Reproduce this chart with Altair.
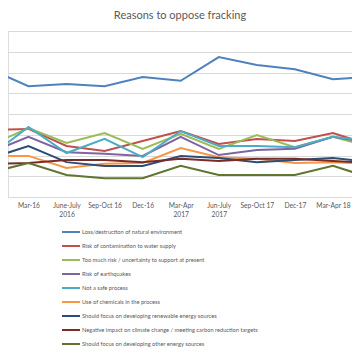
import altair as alt
import pandas as pd

waves = ["Dec-15", "Mar-16", "June-July|2016", "Sep-Oct 16", "Dec-16", "Mar-Apr|2017",
         "Jun-July|2017", "Sep-Oct 17", "Dec-17", "Mar-Apr 18", "Jun-July 18"]

series_names = [
    "Loss/destruction of natural environment",
    "Risk of contamination to water supply",
    "Too much risk / uncertainty to support at present",
    "Risk of earthquakes",
    "Not a safe process",
    "Use of chemicals in the process",
    "Should focus on developing renewable energy sources",
    "Negative impact on climate change / meeting carbon reduction targets",
    "Should focus on developing other energy sources",
]
colors = ["#4F81BD", "#C0504D", "#9BBB59", "#8064A2", "#4BACC6",
          "#F79646", "#2C4D75", "#772C2A", "#5F7530"]

loss = [30.8, 26.7, 27.2, 26.7, 28.9, 28.0, 33.7, 31.8, 30.8, 28.4, 28.9]
water = [16.1, 16.4, 12.3, 11.1, 13.5, 15.9, 12.8, 14.0, 13.5, 15.4, 12.5]
too_much = [12.5, 16.6, 13.0, 15.4, 11.6, 15.2, 11.6, 14.9, 12.0, 14.5, 12.0]
quakes = [10.8, 14.5, 10.8, 10.4, 9.9, 14.5, 10.1, 11.3, 11.6, 14.5, 13.0]
not_safe = [9.9, 16.9, 10.6, 14.0, 9.6, 15.9, 12.3, 12.3, 12.0, 14.5, 13.5]
chemicals = [9.9, 9.9, 7.0, 8.0, 8.2, 11.8, 9.6, 9.2, 8.2, 8.4, 8.0]
renewable = [9.3, 12.3, 8.4, 7.5, 7.5, 9.9, 9.4, 8.4, 8.9, 9.4, 8.4]
climate = [8.0, 8.2, 8.9, 8.9, 8.4, 9.2, 8.7, 9.2, 9.2, 8.7, 8.2]
other = [5.9, 8.2, 5.3, 4.5, 4.5, 7.5, 5.3, 5.3, 5.3, 7.5, 4.6]

all_series = [loss, water, too_much, quakes, not_safe, chemicals, renewable, climate, other]

rows = []
for k, (name, vals) in enumerate(zip(series_names, all_series)):
    for w, v in zip(waves, vals):
        rows.append({"series": name, "wave": w, "value": v, "k": k})
df = pd.DataFrame(rows)

FONT = "Lato"
TXT = "#595959"
GRID = "#D9D9D9"

chart = alt.Chart(df).mark_line(strokeWidth=2, clip=True).encode(
    x=alt.X("wave:N", sort=waves,
            scale=alt.Scale(type="point", range=[-17.6, 363], padding=0),
            axis=alt.Axis(title=None, labelExpr="split(datum.label, '|')",
                          labelAngle=0, labelOverlap=False, ticks=False,
                          domainColor=GRID, labelColor=TXT, labelFont=FONT,
                          labelFontSize=6.7, labelPadding=5, labelLineHeight=9,
                          grid=False)),
    y=alt.Y("value:Q", scale=alt.Scale(domain=[0, 40], nice=False),
            axis=alt.Axis(title=None, labels=False, ticks=False, domain=False,
                          values=list(range(0, 41, 5)), gridColor=GRID, gridWidth=1)),
    color=alt.Color("series:N", sort=series_names,
                    scale=alt.Scale(domain=series_names, range=colors),
                    legend=alt.Legend(title=None, orient="none", legendX=53, legendY=191,
                                      symbolType="stroke", symbolSize=324,
                                      symbolStrokeWidth=2, labelFont=FONT,
                                      labelFontSize=5.7, labelColor=TXT, labelLimit=400,
                                      labelOffset=1, rowPadding=-3.0)),
    order=alt.Order("k:Q"),
).properties(
    width=344, height=166,
    padding={"left": 0, "top": 23, "right": 0, "bottom": 155},
    autosize=alt.AutoSizeParams(type="none"),
    title=alt.TitleParams("Reasons to oppose fracking", font=FONT, fontSize=11,
                          fontWeight="normal", color=TXT, anchor="middle", offset=10),
).configure_view(stroke=None).configure(background="white")

chart.save("out.html", embed_options={"renderer": "svg", "actions": False})
